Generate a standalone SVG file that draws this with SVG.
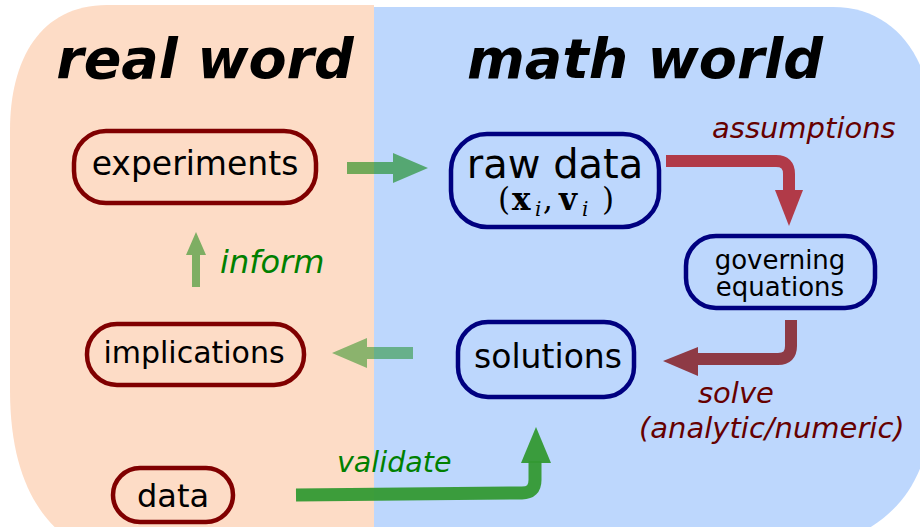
<svg xmlns="http://www.w3.org/2000/svg" width="920" height="527" viewBox="0 0 920 527">
<style>
.node-red{fill:none;stroke:#800000;stroke-width:4.5}
.node-blue{fill:none;stroke:#000080;stroke-width:4.5}
.lbl{font-family:"DejaVu Sans",sans-serif;fill:#000;text-anchor:middle}
.head{font-family:"DejaVu Sans",sans-serif;font-weight:bold;font-style:italic;font-size:55.5px;fill:#000;text-anchor:middle}
.green-lbl{font-family:"DejaVu Sans",sans-serif;font-style:italic;fill:#008000}
.red-lbl{font-family:"DejaVu Sans",sans-serif;font-style:italic;fill:#660000}
.math{font-family:"DejaVu Serif",serif;font-size:31px;fill:#000}
.sub{font-size:20px;font-style:italic}
</style>
<rect width="920" height="527" fill="#fff"/>
<g id="background">
<path d="M374,5 L107,5 C40,5 10,60 10,130 L10,390 C10,470 35,515 70,540 L374,540 Z" fill="#fddcc6"/>
<path d="M374,7 L833,7 C890,7 925,50 932,110 L932,400 C932,480 895,520 845,540 L374,540 Z" fill="#bdd7fd"/>
<text class="head" x="205" y="78">real word</text>
<text class="head" x="645" y="78">math world</text>
</g>
<g id="connectors">
<path d="M347,162 H393 V153 L428,168 L393,183 V174 H347 Z" fill="#008000" fill-opacity="0.55"/>
<path d="M192,287 V255 H186 L196,232 L206,255 H200 V287 Z" fill="#008000" fill-opacity="0.5"/>
<path d="M413,347 H367 V338 L332,353 L367,368 V359 H413 Z" fill="#008000" fill-opacity="0.45"/>
<path d="M666,161 H776 Q789,161 789,174 V192" fill="none" stroke="#b13a48" stroke-width="12"/>
<polygon points="775,190 803,190 789,226" fill="#b13a48"/>
<path d="M791,320 V346 Q791,359 778,359 H696" fill="none" stroke="#8e3a45" stroke-width="12"/>
<polygon points="698,347 698,376 663,361" fill="#8e3a45"/>
<path d="M296,495 L522,493 Q535,493 535,480 V461" fill="none" stroke="#339933" stroke-width="13" stroke-opacity="0.95"/>
<polygon points="521,463 551,463 536,427" fill="#339933" fill-opacity="0.95"/>
<text class="green-lbl" x="220" y="273" font-size="32">inform</text>
<text class="green-lbl" x="337" y="472" font-size="28.5">validate</text>
<text class="red-lbl" x="712" y="138" font-size="29">assumptions</text>
<text class="red-lbl" x="698" y="403" font-size="29">solve</text>
<text class="red-lbl" x="639" y="438" font-size="29">(analytic/numeric)</text>
</g>
<g id="experiments">
<rect class="node-red" x="74" y="131" width="242" height="72" rx="32"/>
<text class="lbl" x="195" y="175" font-size="33">experiments</text>
</g>
<g id="implications">
<rect class="node-red" x="87" y="324" width="217" height="61" rx="30"/>
<text class="lbl" x="194" y="363" font-size="30">implications</text>
</g>
<g id="data">
<rect class="node-red" x="113" y="468" width="120" height="54" rx="27"/>
<text class="lbl" x="173" y="507" font-size="32">data</text>
</g>
<g id="raw-data">
<rect class="node-blue" x="451" y="134" width="208" height="93" rx="36"/>
<text class="lbl" x="555" y="178" font-size="40">raw data</text>
<text class="math" y="210"><tspan x="498">(</tspan><tspan x="512" font-weight="bold">x</tspan><tspan class="sub" x="535" dy="6">i</tspan><tspan x="543" dy="-6">,</tspan><tspan x="559" font-weight="bold">v</tspan><tspan class="sub" x="582" dy="6">i</tspan><tspan x="602" dy="-6">)</tspan></text>
</g>
<g id="governing-equations">
<rect class="node-blue" x="686" y="236" width="189" height="72" rx="30"/>
<text class="lbl" x="780" y="269" font-size="26">governing</text>
<text class="lbl" x="780" y="296" font-size="26">equations</text>
</g>
<g id="solutions">
<rect class="node-blue" x="458" y="322" width="176" height="75" rx="30"/>
<text class="lbl" x="548" y="368" font-size="33">solutions</text>
</g>
</svg>
